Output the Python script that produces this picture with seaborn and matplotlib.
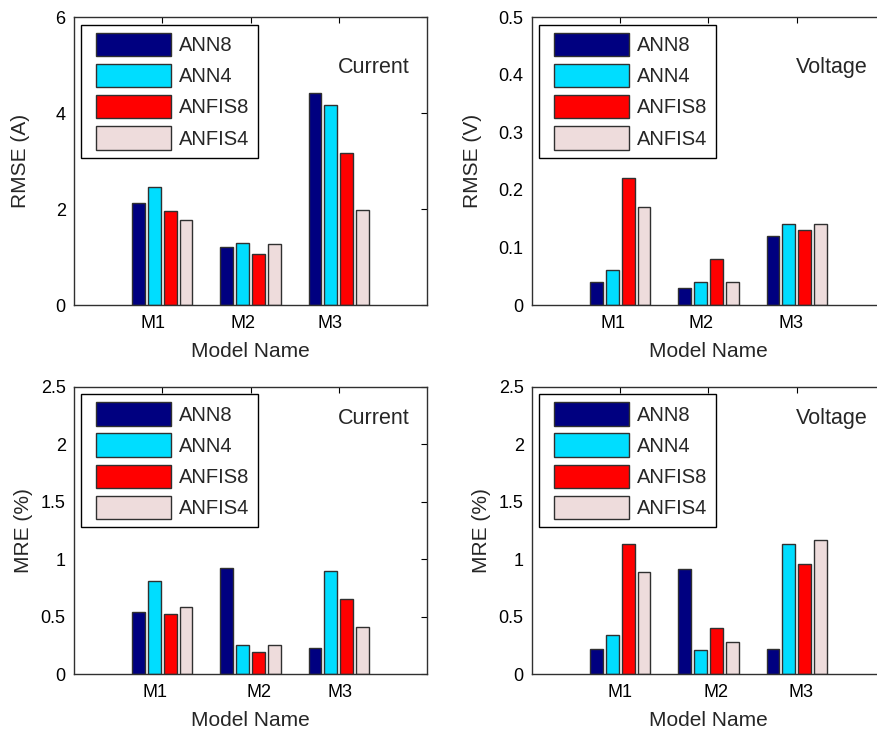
import numpy as np
import pandas as pd
import matplotlib
matplotlib.use("Agg")
import matplotlib.pyplot as plt
import matplotlib.transforms as mtrans
from matplotlib.patches import Patch
from matplotlib.legend_handler import HandlerPatch
import seaborn as sns

sns.set_style("white")
plt.rcParams['font.family'] = ['Liberation Sans', 'DejaVu Sans']

# data
models = ["M1", "M2", "M3"]
methods = ["ANN8", "ANN4", "ANFIS8", "ANFIS4"]
colors = ["#000080", "#00DDFF", "#FF0000", "#EEDCDC"]

rmse_current = {"ANN8": [2.12, 1.21, 4.41], "ANN4": [2.46, 1.30, 4.17],
                "ANFIS8": [1.96, 1.07, 3.17], "ANFIS4": [1.77, 1.28, 1.99]}
rmse_voltage = {"ANN8": [0.04, 0.03, 0.12], "ANN4": [0.06, 0.04, 0.14],
                "ANFIS8": [0.22, 0.08, 0.13], "ANFIS4": [0.17, 0.04, 0.14]}
mre_current = {"ANN8": [0.54, 0.92, 0.23], "ANN4": [0.81, 0.25, 0.90],
               "ANFIS8": [0.52, 0.19, 0.65], "ANFIS4": [0.58, 0.25, 0.41]}
mre_voltage = {"ANN8": [0.22, 0.91, 0.22], "ANN4": [0.34, 0.21, 1.13],
               "ANFIS8": [1.13, 0.40, 0.96], "ANFIS4": [0.89, 0.28, 1.17]}

panels = [
    (rmse_current, "RMSE (A)", "Current", [0, 2, 4, 6], 0.825),
    (rmse_voltage, "RMSE (V)", "Voltage", [0, 0.1, 0.2, 0.3, 0.4, 0.5], 0.825),
    (mre_current, "MRE (%)", "Current", [0, 0.5, 1, 1.5, 2, 2.5], 0.89),
    (mre_voltage, "MRE (%)", "Voltage", [0, 0.5, 1, 1.5, 2, 2.5], 0.89),
]
ytick_labels = [["0", "2", "4", "6"],
                ["0", "0.1", "0.2", "0.3", "0.4", "0.5"],
                ["0", "0.5", "1", "1.5", "2", "2.5"],
                ["0", "0.5", "1", "1.5", "2", "2.5"]]

# axes rectangles in figure fractions
rects = [[0.0844, 0.5816, 0.4025, 0.395],
         [0.6066, 0.5816, 0.4025, 0.395],
         [0.0844, 0.0754, 0.4025, 0.394],
         [0.6066, 0.0754, 0.4025, 0.394]]
ylabel_x = [-0.126, -0.142, -0.116, -0.116]
# small shifts (px) of the M1..M3 labels as in the original export
xlab_shift = [[-9, -8, -9], [-7, -7, -6], [-7, 8, 1], [0, 8, 4]]

fig = plt.figure(figsize=(8.77, 7.29), dpi=100)

for i, (vals, ylab, tag, yt, ty) in enumerate(panels):
    ax = fig.add_axes(rects[i])
    df = pd.DataFrame([(m, meth, vals[meth][j]) for meth in methods
                       for j, m in enumerate(models)],
                      columns=["model", "method", "value"])
    sns.barplot(data=df, x="model", y="value", hue="method", order=models,
                hue_order=methods, palette=colors, width=0.72, gap=0.2,
                edgecolor="#303030", linewidth=1.0, saturation=1, ax=ax,
                legend=False)
    ax.set_xlim(-1, 3)
    ax.set_ylim(yt[0], yt[-1])
    ax.set_yticks(yt)
    ax.set_yticklabels(ytick_labels[i])
    ax.set_xlabel("Model Name", fontsize=15)
    ax.set_ylabel(ylab, fontsize=15)
    ax.xaxis.set_label_coords(0.5, -0.127)
    ax.yaxis.set_label_coords(ylabel_x[i], 0.5)
    ax.tick_params(direction="in", length=4, width=0.8, top=True, right=True,
                   labelsize=13, colors="black")
    ax.tick_params(axis="x", pad=7)
    ax.tick_params(axis="y", pad=6)
    for lab, dx in zip(ax.get_xticklabels(), xlab_shift[i]):
        lab.set_transform(lab.get_transform() +
                          mtrans.ScaledTranslation(dx / 100, 0, fig.dpi_scale_trans))
    for s in ax.spines.values():
        s.set_color("#303030")
        s.set_linewidth(1.0)
    ax.text(0.85, ty, tag, transform=ax.transAxes, fontsize=15.5,
            ha="center", va="center")
    handles = [Patch(facecolor=c, edgecolor="#303030", linewidth=1.0)
               for c in colors]
    leg = ax.legend(handles, methods, loc="upper left", fontsize=14.5,
                    handlelength=4.05, handleheight=1.42, handletextpad=0.4,
                    labelspacing=0.38, borderpad=0.4, borderaxespad=0.37,
                    fancybox=False, framealpha=1, edgecolor="black",
                    handler_map={Patch: HandlerPatch(xpad=0.3)})
    leg.get_frame().set_linewidth(1.0)

fig.savefig("out.png", dpi=100)
